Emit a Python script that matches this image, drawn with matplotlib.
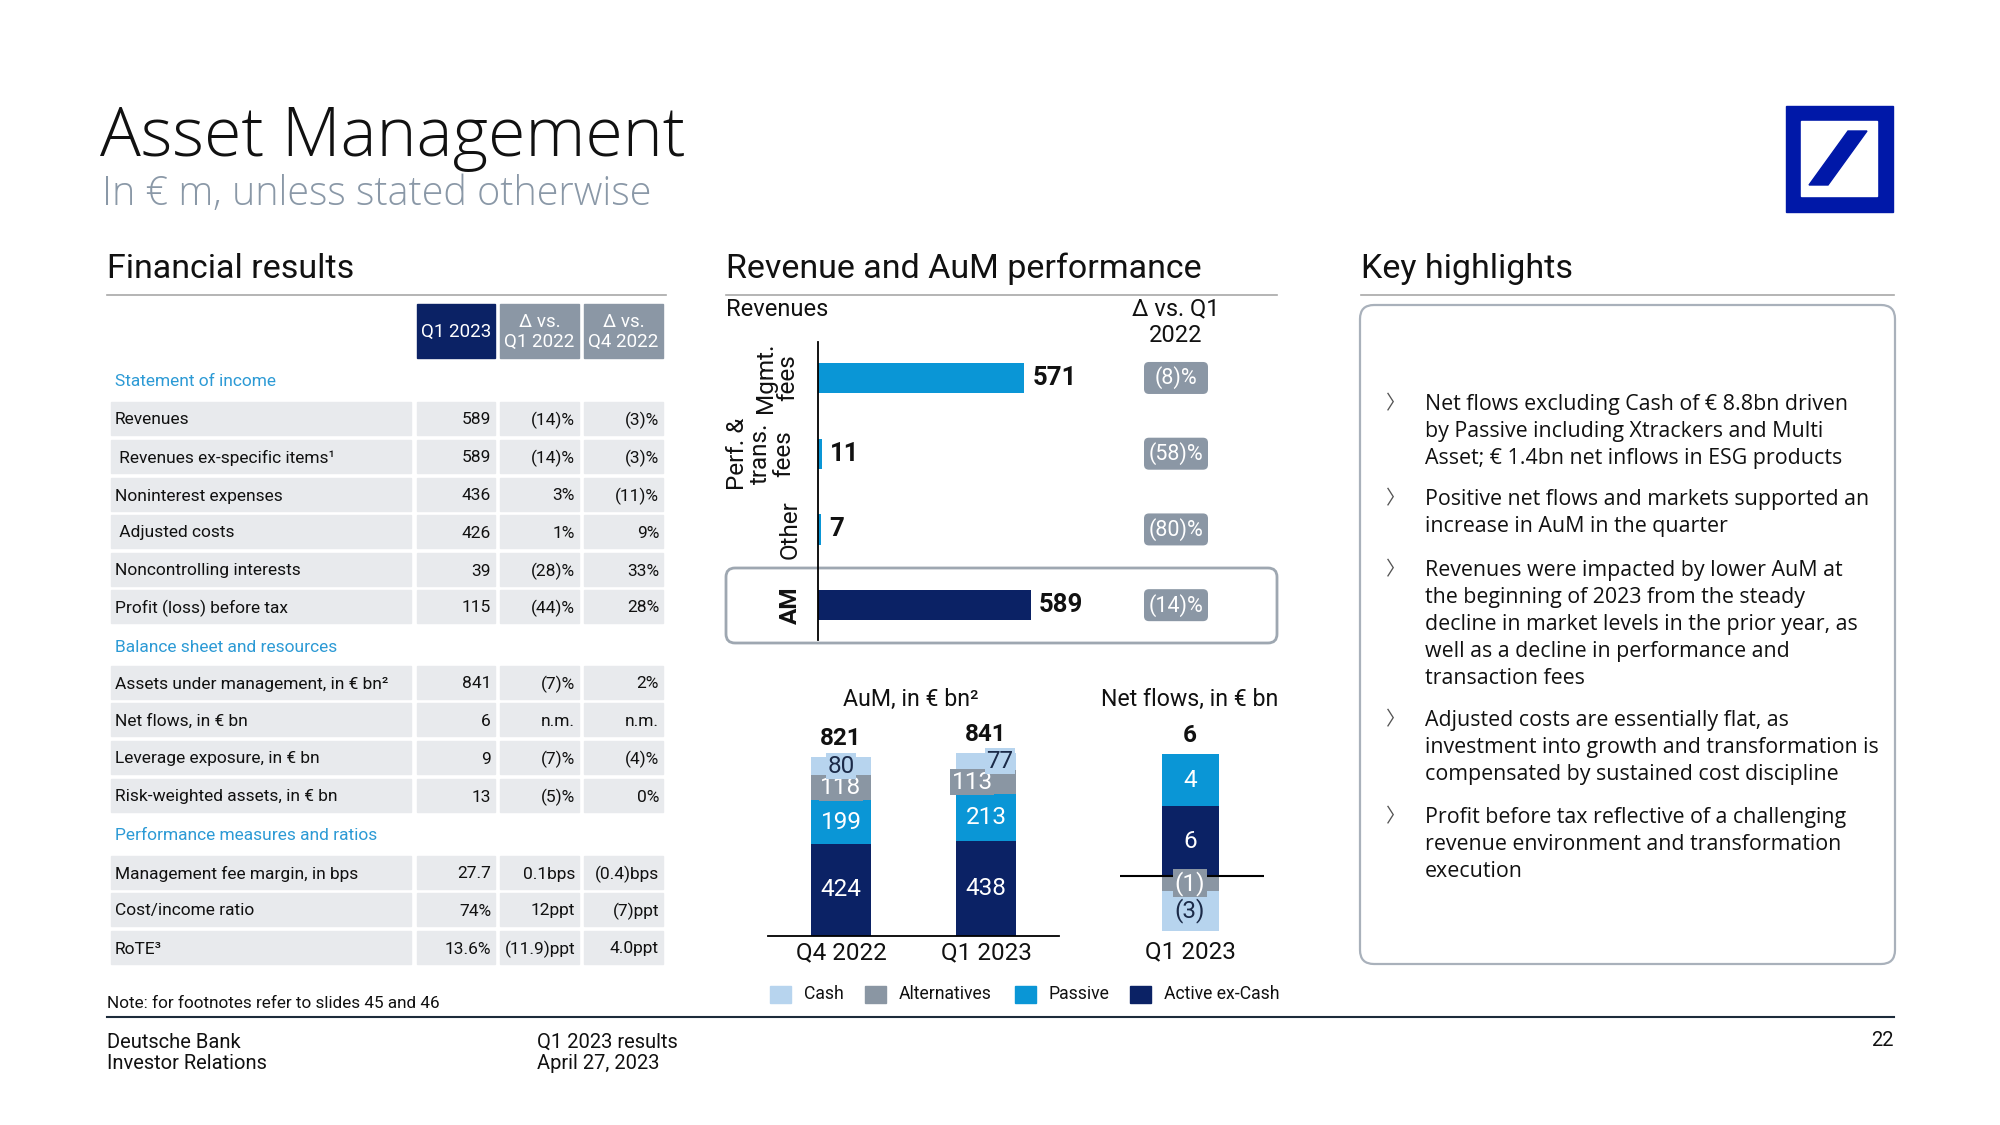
import matplotlib
matplotlib.use("Agg")
import matplotlib.pyplot as plt
from matplotlib.patches import Rectangle, FancyBboxPatch, Polygon

# ---------------- data ----------------
table_cols = ["Q1 2023", "Δ vs.\nQ1 2022", "Δ vs.\nQ4 2022"]

income_labels = ["Revenues", " Revenues ex-specific items¹", "Noninterest expenses",
                 " Adjusted costs", "Noncontrolling interests", "Profit (loss) before tax"]
income_vals = [["589", "(14)%", "(3)%"], ["589", "(14)%", "(3)%"], ["436", "3%", "(11)%"],
               ["426", "1%", "9%"], ["39", "(28)%", "33%"], ["115", "(44)%", "28%"]]

balance_labels = ["Assets under management, in € bn²", "Net flows, in € bn",
                  "Leverage exposure, in € bn", "Risk-weighted assets, in € bn"]
balance_vals = [["841", "(7)%", "2%"], ["6", "n.m.", "n.m."], ["9", "(7)%", "(4)%"],
                ["13", "(5)%", "0%"]]

perf_labels = ["Management fee margin, in bps", "Cost/income ratio", "RoTE³"]
perf_vals = [["27.7", "0.1bps", "(0.4)bps"], ["74%", "12ppt", "(7)ppt"],
             ["13.6%", "(11.9)ppt", "4.0ppt"]]

rev_cats = ["Mgmt.\nfees", "Perf. &\ntrans.\nfees", "Other", "AM"]
rev_vals = [571, 11, 7, 589]
rev_delta = ["(8)%", "(58)%", "(80)%", "(14)%"]

aum_periods = ["Q4 2022", "Q1 2023"]
aum_active = [424, 438]
aum_passive = [199, 213]
aum_alt = [118, 113]
aum_cash = [80, 77]

nf_periods = ["Q1 2023"]
nf_active = [5.7]
nf_passive = [4.3]
nf_alt = [-1.2]
nf_cash = [-3.3]

legend_names = ["Cash", "Alternatives", "Passive", "Active ex-Cash"]

highlights = [
    "Net flows excluding Cash of € 8.8bn driven\nby Passive including Xtrackers and Multi\nAsset; € 1.4bn net inflows in ESG products",
    "Positive net flows and markets supported an\nincrease in AuM in the quarter",
    "Revenues were impacted by lower AuM at\nthe beginning of 2023 from the steady\ndecline in market levels in the prior year, as\nwell as a decline in performance and\ntransaction fees",
    "Adjusted costs are essentially flat, as\ninvestment into growth and transformation is\ncompensated by sustained cost discipline",
    "Profit before tax reflective of a challenging\nrevenue environment and transformation\nexecution",
]

# ---------------- style ----------------
NAVY = "#0b2265"
PASSIVE = "#0a96d6"
ALT = "#8a96a3"
CASH = "#b7d4ee"
BADGE = "#8b97a5"
CELL = "#e8eaed"
SECTION_BLUE = "#2c9ad5"
DB_BLUE = "#0018a8"
TXT = "#111111"
BODY = ["Roboto", "DejaVu Sans"]
HL = ["Open Sans", "DejaVu Sans"]
TITLE = ["Open Sans", "DejaVu Sans"]

W, H = 2000, 1125
fig = plt.figure(figsize=(20, 11.25), dpi=100)
bg = fig.add_axes([0, 0, 1, 1])
bg.set_xlim(0, W)
bg.set_ylim(H, 0)
bg.axis("off")


def px_axes(x0, y0, x1, y1):
    ax = fig.add_axes([x0 / W, 1 - y1 / H, (x1 - x0) / W, (y1 - y0) / H])
    ax.set_facecolor("none")
    return ax


def fmt(v):
    r = int(round(abs(v)))
    return f"({r})" if v < 0 else f"{r}"


# ---------------- title + logo ----------------
bg.text(100, 156, "Asset Management", fontsize=49, family=TITLE, fontweight="light",
        color=TXT, va="baseline")
bg.text(102, 205, "In € m, unless stated otherwise", fontsize=28.5, family=TITLE,
        fontweight="light", color="#8a98a7", va="baseline")

bg.add_patch(Rectangle((1786, 106), 107, 106, color=DB_BLUE))
bg.add_patch(Rectangle((1801, 121), 76, 75, color="white"))
bg.add_patch(Polygon([(1848, 131), (1867, 131), (1828, 185), (1809, 185)], color=DB_BLUE))

# ---------------- section headers ----------------
for x0, x1, name in [(107, 666, "Financial results"),
                     (726, 1277, "Revenue and AuM performance"),
                     (1361, 1894, "Key highlights")]:
    bg.text(x0, 269, name, fontsize=24.5, family=BODY, color=TXT, va="center")
    bg.plot([x0, x1], [295, 295], color="#a8a8a8", lw=1.2)

# ---------------- table ----------------
col_x = [(417, 495), (500, 579), (584, 663)]
for i, (a, b) in enumerate(col_x):
    bg.add_patch(Rectangle((a, 304), b - a, 54, color=NAVY if i == 0 else BADGE))
    bg.text((a + b) / 2, 332, table_cols[i], fontsize=13.5, family=BODY, color="white",
            ha="center", va="center", linespacing=1.2)


def draw_rows(labels, vals, ys):
    for lab, row, y in zip(labels, vals, ys):
        bg.add_patch(Rectangle((111, y - 16.5), 300, 33, color=CELL))
        bg.text(115, y + 2, lab, fontsize=12.5, family=BODY, color=TXT, va="center")
        for (a, b), v in zip(col_x, row):
            bg.add_patch(Rectangle((a, y - 16.5), b - a, 33, color=CELL))
            bg.text(b - 4, y + 2, v, fontsize=12.5, family=BODY, color=TXT, ha="right", va="center")


bg.text(115, 382, "Statement of income", fontsize=12.5, family=BODY, color=SECTION_BLUE, va="center")
draw_rows(income_labels, income_vals, [418, 456, 494, 531, 569, 606])
bg.text(115, 647, "Balance sheet and resources", fontsize=12.5, family=BODY, color=SECTION_BLUE, va="center")
draw_rows(balance_labels, balance_vals, [682, 719, 757, 795])
bg.text(115, 836, "Performance measures and ratios", fontsize=12.5, family=BODY, color=SECTION_BLUE, va="center")
draw_rows(perf_labels, perf_vals, [872, 909, 947])

# ---------------- revenue bars ----------------
bg.add_patch(FancyBboxPatch((726, 568), 551, 75, boxstyle="round,pad=0,rounding_size=9",
                            fc="none", ec="#9ea7b1", lw=2))
bg.text(726, 309, "Revenues", fontsize=17, family=BODY, color=TXT, va="center")
bg.text(1176, 322, "Δ vs. Q1\n2022", fontsize=17, family=BODY, color=TXT, ha="center",
        va="center", linespacing=1.2)

rax = px_axes(818, 342, 1277, 640)
rpos = list(range(len(rev_cats)))
rcolors = [PASSIVE, PASSIVE, PASSIVE, NAVY]
rax.barh(rpos, rev_vals, height=0.40, color=rcolors)
rax.set_xlim(0, 459 / 0.361)
rax.set_ylim(3.46, -0.475)
for s in ["top", "right", "bottom"]:
    rax.spines[s].set_visible(False)
rax.spines["left"].set_linewidth(1.3)
rax.set_xticks([])
rax.set_yticks([])
for y, v, cat in zip(rpos, rev_vals, rev_cats):
    rax.annotate(str(v), (v, y), xytext=(6, 0), textcoords="offset points", fontsize=18.5,
                 family=BODY, fontweight="bold", va="center", color=TXT)
    xo = {0: -0.09, 1: -0.125, 2: -0.06, 3: -0.06}[y]
    rax.text(xo, y, cat, transform=rax.get_yaxis_transform(), rotation=90, fontsize=17.5,
             family=BODY, fontweight="bold" if cat == "AM" else "normal", color=TXT,
             ha="center", va="center", multialignment="center", linespacing=1.0)

inv = bg.transData.inverted()
for y, d in zip(rpos, rev_delta):
    yy = inv.transform(rax.transData.transform((0, y)))[1]
    bg.add_patch(FancyBboxPatch((1144, yy - 16), 64, 32, boxstyle="round,pad=0,rounding_size=5",
                                fc=BADGE, ec="none"))
    bg.text(1176, yy, d, fontsize=15.5, family=BODY, color="white", ha="center", va="center")

# ---------------- AuM stacked bars ----------------
bg.text(911, 699, "AuM, in € bn²", fontsize=16.7, family=BODY, color=TXT, ha="center", va="center")
bg.text(1190, 699, "Net flows, in € bn", fontsize=16.7, family=BODY, color=TXT, ha="center", va="center")

aax = px_axes(768, 700, 1059, 936)
ax_x = list(range(len(aum_periods)))
scale = 0.2175
aax.set_xlim(-0.503, 1.503)
aax.set_ylim(0, 236 / scale)
series = [(aum_active, NAVY, "white"), (aum_passive, PASSIVE, "white"),
          (aum_alt, ALT, "white"), (aum_cash, CASH, "#1b2a48")]
bottom = [0, 0]
for k, (vals, col, tc) in enumerate(series):
    aax.bar(ax_x, vals, width=0.41, bottom=bottom, color=col)
    for i, v in enumerate(vals):
        dx = 0
        box = None
        if k == 2:
            box = dict(fc=col, ec="none", pad=1)
            dx = -10 if i == 1 else 0
        if k == 3:
            box = dict(fc=col, ec="none", pad=1)
            dx = 10 if i == 1 else 0
        aax.annotate(fmt(v), (i, bottom[i] + v / 2), xytext=(dx, 0), textcoords="offset points",
                     fontsize=17.5, family=BODY, color=tc, ha="center", va="center", bbox=box)
    bottom = [b + v for b, v in zip(bottom, vals)]
for i, t in enumerate(bottom):
    aax.annotate(fmt(t), (i, t), xytext=(0, 5), textcoords="offset points", fontsize=17.5,
                 family=BODY, fontweight="bold", color=TXT, ha="center", va="bottom")
for s in ["top", "right", "left"]:
    aax.spines[s].set_visible(False)
aax.spines["bottom"].set_linewidth(1.3)
aax.set_yticks([])
aax.set_xticks(ax_x)
aax.set_xticklabels(aum_periods, fontsize=17.5, family=BODY, color=TXT)
aax.tick_params(axis="x", length=0, pad=4)

# ---------------- net flows ----------------
nax = px_axes(1120, 740, 1264, 935)
unit = 12.2
nax.set_xlim(-1.228, 1.298)
nax.set_ylim(-(935 - 876) / unit, (876 - 740) / unit)
nx = list(range(len(nf_periods)))
nax.bar(nx, nf_active, width=1.0, color=NAVY)
nax.bar(nx, nf_passive, width=1.0, bottom=nf_active, color=PASSIVE)
nax.bar(nx, nf_alt, width=1.0, color=ALT)
nax.bar(nx, nf_cash, width=1.0, bottom=nf_alt, color=CASH)
nax.axhline(0, color="black", lw=1.5, zorder=2.5)
for i in nx:
    nax.text(i, nf_active[i] / 2, fmt(nf_active[i]), fontsize=17.5, family=BODY, color="white",
             ha="center", va="center", zorder=4)
    nax.text(i, nf_active[i] + nf_passive[i] / 2, fmt(nf_passive[i]), fontsize=17.5, family=BODY,
             color="white", ha="center", va="center", zorder=4)
    nax.text(i, nf_alt[i] / 2, fmt(nf_alt[i]), fontsize=17.5, family=BODY, color="white",
             ha="center", va="center", zorder=4, bbox=dict(fc=ALT, ec="none", pad=1))
    nax.text(i, nf_alt[i] + nf_cash[i] / 2, fmt(nf_cash[i]), fontsize=17.5, family=BODY,
             color="#1b2a48", ha="center", va="center", zorder=4)
    tot = nf_active[i] + nf_passive[i] + nf_alt[i] + nf_cash[i]
    nax.annotate(fmt(tot), (i, nf_active[i] + nf_passive[i]), xytext=(0, 5),
                 textcoords="offset points", fontsize=17.5, family=BODY, fontweight="bold",
                 color=TXT, ha="center", va="bottom")
for s in nax.spines.values():
    s.set_visible(False)
nax.set_yticks([])
nax.set_xticks(nx)
nax.set_xticklabels(nf_periods, fontsize=17.5, family=BODY, color=TXT)
nax.tick_params(axis="x", length=0, pad=4)

# legend
for (sx, tx), name, col in zip([(770, 804), (865, 899), (1015, 1048), (1130, 1164)],
                               legend_names, [CASH, ALT, PASSIVE, NAVY]):
    bg.add_patch(Rectangle((sx, 986), 21, 17, color=col))
    bg.text(tx, 994, name, fontsize=12.7, family=BODY, color=TXT, va="center")

# ---------------- key highlights ----------------
bg.add_patch(FancyBboxPatch((1360, 305), 535, 659, boxstyle="round,pad=0,rounding_size=14",
                            fc="none", ec="#a9b1bb", lw=1.6))
for y, txt in zip([402, 497, 568, 718, 815], highlights):
    bg.text(1386, y + 2, "〉", fontsize=14, family=["Noto Sans CJK JP", "DejaVu Sans"],
            color="#555555", va="center")
    bg.text(1425, y - 8, txt, fontsize=15.4, family=HL, color=TXT, va="top", linespacing=1.38)

# ---------------- footer ----------------
bg.text(107, 1003, "Note: for footnotes refer to slides 45 and 46", fontsize=12.3, family=BODY,
        color=TXT, va="center")
bg.plot([107, 1894], [1017, 1017], color="#1d2b3a", lw=1.5)
bg.text(107, 1053, "Deutsche Bank\nInvestor Relations", fontsize=14.5, family=BODY, color=TXT,
        va="center", linespacing=1.1)
bg.text(537, 1053, "Q1 2023 results\nApril 27, 2023", fontsize=14.5, family=BODY, color=TXT,
        va="center", linespacing=1.1)
bg.text(1894, 1040, "22", fontsize=14.5, family=BODY, color=TXT, ha="right", va="center")

fig.savefig("out.png", dpi=100)
